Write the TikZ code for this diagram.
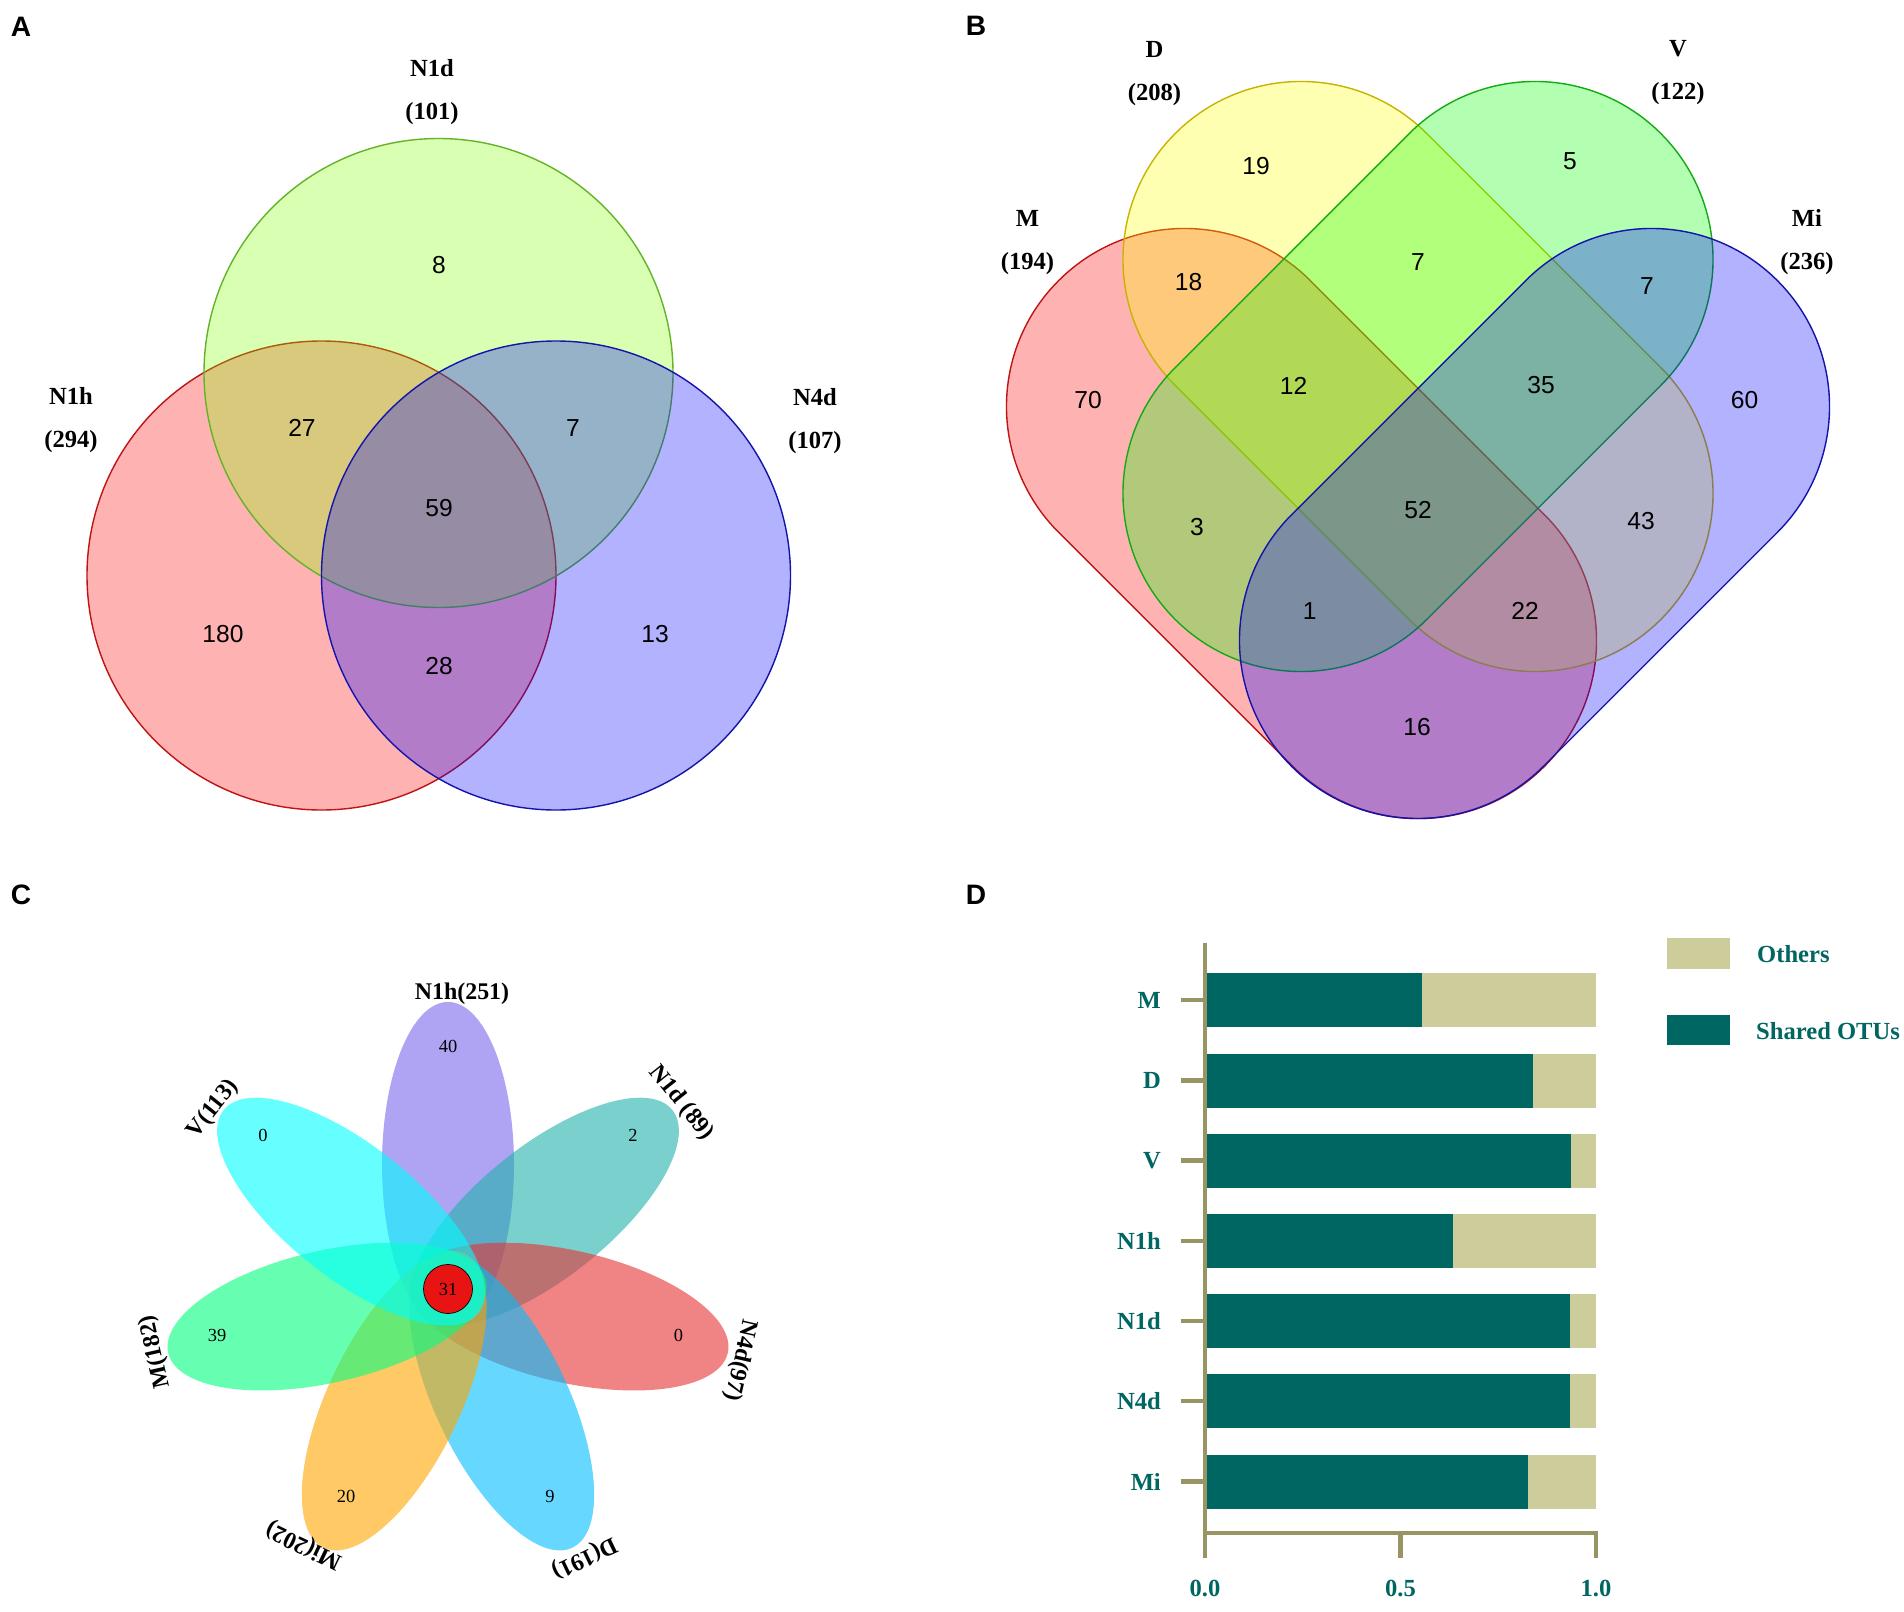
\documentclass[tikz,border=0pt]{standalone}
\usepackage{fontspec}
\setmainfont{Liberation Serif}
\newfontfamily\arialfont{Liberation Sans}
\usepackage{tikz}
\usetikzlibrary{calc}
\definecolor{aRedFill}{RGB}{255,0,0}
\definecolor{aRedLine}{RGB}{190,20,20}
\definecolor{aGreenFill}{RGB}{128,255,0}
\definecolor{aGreenLine}{RGB}{100,180,40}
\definecolor{aBlueFill}{RGB}{0,0,255}
\definecolor{aBlueLine}{RGB}{20,20,170}
\definecolor{bYellowFill}{RGB}{255,255,0}
\definecolor{bYellowLine}{RGB}{200,180,0}
\definecolor{bGreenFill}{RGB}{0,255,0}
\definecolor{bGreenLine}{RGB}{20,170,20}
\definecolor{petPurple}{RGB}{123,104,238}
\definecolor{petTeal}{RGB}{32,178,170}
\definecolor{petCoral}{RGB}{230,50,50}
\definecolor{petSky}{RGB}{0,191,255}
\definecolor{petOrange}{RGB}{255,165,0}
\definecolor{petSpring}{RGB}{0,255,127}
\definecolor{petCyan}{RGB}{0,255,255}
\definecolor{coreRed}{RGB}{232,20,20}
\definecolor{sharedTeal}{RGB}{0,102,97}
\definecolor{othersBeige}{RGB}{205,205,155}
\definecolor{axisOlive}{RGB}{153,148,100}
% stadium-shaped set: centre x, centre y, angle, style
\newcommand{\stadium}[4]{%
  \begin{scope}[shift={(#1,#2)}, rotate=#3]
    \draw[#4] (-165.5,-178) -- (165.5,-178) arc[start angle=-90, end angle=90, radius=178]
      -- (-165.5,178) arc[start angle=90, end angle=270, radius=178] -- cycle;
  \end{scope}}
\tikzset{
  vennset/.style 2 args={draw=#1, fill=#2, fill opacity=0.3, line width=0.8pt},
  setlabel/.style={font=\fontsize{14}{24.5}\selectfont\bfseries, align=center},
  count/.style={font=\arialfont\fontsize{14}{16}\selectfont},
  panel/.style={font=\arialfont\fontsize{16}{18}\selectfont\bfseries},
  petalnum/.style={font=\fontsize{10.5}{12}\selectfont},
  petallabel/.style={font=\fontsize{13.6}{15}\selectfont\bfseries},
  axislbl/.style={font=\fontsize{14}{16}\selectfont\bfseries, text=sharedTeal},
  axisline/.style={draw=axisOlive, line width=2.6pt},
}

\begin{document}
\begin{tikzpicture}[x=0.02cm, y=-0.02cm]
  \useasboundingbox (0,0) rectangle (1904,1612);
  \fill[white] (0,0) rectangle (1904,1612);

  % panel letters
  \foreach \x/\y/\l in {21/27/A, 976/26/B, 21/895/C, 976/895/D}
    \node[panel] (panel\l) at (\x,\y) {\l};

  % ---- A: three-set Venn
  \draw[vennset={aRedLine}{aRedFill}] (321.5,575.5) circle[radius=234.5];
  \draw[vennset={aGreenLine}{aGreenFill}] (438.5,373) circle[radius=234.5];
  \draw[vennset={aBlueLine}{aBlueFill}] (556,575.5) circle[radius=234.5];
  \node[setlabel] (aN1d) at (432,92.5) {N1d\\(101)};
  \node[setlabel] (aN1h) at (71,420) {N1h\\(294)};
  \node[setlabel] (aN4d) at (815,421.5) {N4d\\(107)};
  \foreach \x/\y/\v [count=\i] in {439/265/8, 302/428/27, 573/428/7, 439/508/59,
      223/634/180, 439/666/28, 655/634/13}
    \node[count] (acnt\i) at (\x,\y) {\v};

  % ---- B: four-set Venn
  \stadium{1301.5}{523.5}{-45}{vennset={aRedLine}{aRedFill}}
  \stadium{1418}{376.5}{-45}{vennset={bYellowLine}{bYellowFill}}
  \stadium{1418}{376.5}{45}{vennset={bGreenLine}{bGreenFill}}
  \stadium{1534.5}{523.5}{45}{vennset={aBlueLine}{aBlueFill}}
  \node[setlabel] (bD) at (1154.5,73.5) {D\\(208)};
  \node[setlabel] (bV) at (1678,72.5) {V\\(122)};
  \node[setlabel] (bM) at (1027.5,243) {M\\(194)};
  \node[setlabel] (bMi) at (1807,242) {Mi\\(236)};
  \foreach \x/\y/\v [count=\i] in {1256/166/19, 1570/161/5, 1188.5/282/18, 1418/262/7,
      1647/286/7, 1088/400/70, 1293.5/386/12, 1541/385/35, 1744.5/400/60,
      1197/527/3, 1418/510/52, 1641/521/43, 1309.6/611/1, 1525/611/22, 1417/727/16}
    \node[count] (bcnt\i) at (\x,\y) {\v};

  % ---- C: flower diagram
  \foreach \ang/\col in {90/petPurple, 38.57/petTeal, -12.86/petCoral, -64.29/petSky,
      -115.71/petOrange, -167.14/petSpring, 141.43/petCyan}
    \fill[\col, fill opacity=0.6, shift={(448,1289)}, rotate=\ang]
      (124,0) ellipse[x radius=163, y radius=66];
  \draw[fill=coreRed, line width=0.4pt] (448,1289) circle[radius=24.5];
  \node[petalnum] (ccore) at (448,1289) {31};
  \foreach \x/\y/\v [count=\i] in {448/1046/40, 633/1135/2, 678.5/1335.5/0,
      550/1496/9, 346/1496/20, 217/1335.5/39, 263/1135/0}
    \node[petalnum] (ccnt\i) at (\x,\y) {\v};
  \foreach \x/\y/\r/\t [count=\i] in {462/994/0/N1h(251), 681/1103/-51.43/N1d (89),
      740/1360/-102.86/N4d(97), 584/1557.5/-154.29/D(191), 304/1545/154.29/Mi(202),
      155.7/1352/102.86/M(182), 213/1109/51.43/V(113)}
    \node[petallabel, rotate=\r] (clbl\i) at (\x,\y) {\t};

  % ---- D: proportion of shared OTUs
  \foreach \lbl/\y/\frac [count=\i] in {M/1000/0.555, D/1080.5/0.838, V/1160.5/0.937,
      N1h/1241/0.635, N1d/1321/0.933, N4d/1401/0.933, Mi/1481.5/0.827}{
    \fill[othersBeige] (1205,\y-27) rectangle (1596,\y+27);
    \fill[sharedTeal] (1205,\y-27) rectangle ({1205+391*\frac},\y+27);
    \draw[axisline] (1181,\y) -- (1205,\y);
    \node[axislbl, anchor=east] (dlbl\i) at (1167,\y) {\lbl};
  }
  \draw[axisline] (1205,943) -- (1205,1533) -- (1598,1533);
  \foreach \x/\t [count=\i] in {1205/0.0, 1400.5/0.5, 1596/1.0}{
    \draw[axisline] (\x,1533) -- (\x,1558);
    \node[axislbl] (dtick\i) at (\x,1588) {\t};
  }
  \fill[othersBeige] (1667,938) rectangle (1730,969);
  \node[axislbl, anchor=west] (legOthers) at (1751,954) {Others};
  \fill[sharedTeal] (1667,1015) rectangle (1730,1045);
  \node[axislbl, anchor=west] (legShared) at (1750,1031) {Shared OTUs};
\end{tikzpicture}
\end{document}
